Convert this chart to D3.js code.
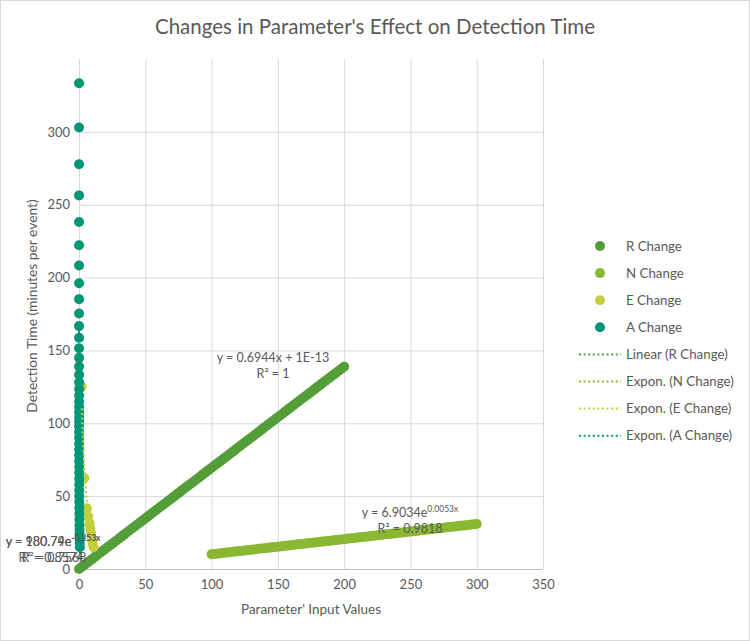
<!DOCTYPE html>
<html><head><meta charset="utf-8">
<script src="https://cdn.jsdelivr.net/npm/d3@7"></script>
<style>body{margin:0;background:#fff} text{font-family:Lato,"Open Sans",sans-serif;fill:#595959}</style>
</head><body><svg id="c" width="750" height="641"></svg>
<script>
// ---- data ----
const xTicks=[0,50,100,150,200,250,300,350];
const yTicks=[0,50,100,150,200,250,300];
const seriesNames=["R Change","N Change","E Change","A Change"];
const trendNames=["Linear (R Change)","Expon. (N Change)","Expon. (E Change)","Expon. (A Change)"];
const colors=["#549E39","#8AB833","#C0CF3A","#029676"];

const rX=[0,2,4,6,8,10,12,14,16,18,20,22,24,26,28,30,32,34,36,38,40,42,44,46,48,50,52,54,56,58,60,62,64,66,68,70,72,74,76,78,80,82,84,86,88,90,92,94,96,98,100,
102,104,106,108,110,112,114,116,118,120,122,124,126,128,130,132,134,136,138,140,142,144,146,148,150,152,154,156,158,160,162,164,166,168,170,172,174,176,178,180,182,184,186,188,190,192,194,196,198,200];
const rY=[0,1.39,2.78,4.17,5.56,6.94,8.33,9.72,11.11,12.5,13.89,15.28,16.67,18.05,19.44,20.83,22.22,23.61,25.0,26.39,27.78,29.16,30.55,31.94,33.33,34.72,36.11,37.5,38.89,40.28,41.66,43.05,44.44,45.83,47.22,48.61,50.0,51.39,52.77,54.16,55.55,
56.94,58.33,59.72,61.11,62.5,63.88,65.27,66.66,68.05,69.44,70.83,72.22,73.61,74.99,76.38,77.77,79.16,80.55,81.94,83.33,84.72,86.11,87.49,88.88,90.27,91.66,93.05,94.44,95.83,97.22,
98.6,99.99,101.38,102.77,104.16,105.55,106.94,108.33,109.72,111.1,112.49,113.88,115.27,116.66,118.05,119.44,120.83,122.21,123.6,124.99,126.38,127.77,129.16,130.55,131.94,133.32,134.71,136.1,137.49,138.88];

const nX=[100,102,104,106,108,110,112,114,116,118,120,122,124,126,128,130,132,134,136,138,140,142,144,146,148,150,152,154,156,158,160,162,164,166,168,170,172,174,176,178,180,182,184,186,188,190,192,194,196,198,200,
202,204,206,208,210,212,214,216,218,220,222,224,226,228,230,232,234,236,238,240,242,244,246,248,250,252,254,256,258,260,262,264,266,268,270,272,274,276,278,280,282,284,286,288,290,292,294,296,298,300];
const nY=[10.1,10.31,10.52,10.72,10.93,11.14,11.35,11.56,11.76,11.97,12.18,12.39,12.6,12.8,13.01,13.22,13.43,13.64,13.84,14.05,14.26,14.47,14.68,14.88,15.09,15.3,15.51,15.72,15.92,16.13,16.34,16.55,16.76,16.96,17.17,17.38,17.59,17.8,18.0,18.21,18.42,
18.63,18.84,19.04,19.25,19.46,19.67,19.88,20.08,20.29,20.5,20.71,20.92,21.12,21.33,21.54,21.75,21.96,22.16,22.37,22.58,22.79,23.0,23.2,23.41,23.62,23.83,24.04,24.24,24.45,24.66,
24.87,25.08,25.28,25.49,25.7,25.91,26.12,26.32,26.53,26.74,26.95,27.16,27.36,27.57,27.78,27.99,28.2,28.4,28.61,28.82,29.03,29.24,29.44,29.65,29.86,30.07,30.28,30.48,30.69,30.9];

const eX=[2,4,6,7,8,8.5,9,9.5,10,10.5,11];
const eY=[125,62.5,41.7,36,31.3,28,25,22,19.5,17,15];

const aX=[0.030,0.033,0.036,0.039,0.042,0.045,0.048,0.051,0.054,0.057,0.060,0.063,0.066,0.069,0.072,0.075,0.078,0.081,0.084,0.087,0.090,0.093,0.096,0.099,
          0.102,0.106,0.111,0.116,0.122,0.128,0.135,0.143,0.152,0.161,0.172,0.185,0.200,0.217,0.238,0.263,0.294,0.333,0.370,0.417,0.476,0.556,0.667];
const aY=[333.3,303.0,277.8,256.4,238.1,222.2,208.3,196.1,185.2,175.4,166.7,158.7,151.5,144.9,138.9,133.3,128.2,123.5,119.0,114.9,111.1,107.5,104.2,101.0,
          98,94,90,86,82,78,74,70,66,62,58,54,50,46,42,38,34,30,27,24,21,18,15];

// ---- setup ----
const svg=d3.select("#c");
const L=79,R=543,B=569;
const x=d3.scaleLinear().domain([0,350]).range([L,R]);
const y=d3.scaleLinear().domain([0,350]).range([B,59]);
const T=y(350);

svg.append("rect").attr("x",0.5).attr("y",0.5).attr("width",749).attr("height",640)
  .attr("fill","#fff").attr("stroke","#d9d9d9");

// gridlines
const gx=svg.append("g").attr("transform",`translate(0,${B})`)
  .call(d3.axisBottom(x).tickValues(xTicks).tickSize(-(B-T)).tickPadding(11).tickFormat(d3.format("d")));
const gy=svg.append("g").attr("transform",`translate(${L},0)`)
  .call(d3.axisLeft(y).tickValues(yTicks).tickSize(-(R-L)).tickPadding(9).tickFormat(d3.format("d")));
[gx,gy].forEach(g=>{
  g.select(".domain").remove();
  g.selectAll(".tick line").attr("stroke","#d9d9d9").attr("stroke-width",1);
  g.selectAll(".tick text").style("font-size","13px").style("font-family","Lato,sans-serif").attr("fill","#595959");
});
gy.selectAll(".tick").filter(d=>d===0).select("line").attr("stroke","#bfbfbf");

// title & axis titles
svg.append("text").attr("x",375).attr("y",34).attr("text-anchor","middle")
  .style("font-size","20.5px").text("Changes in Parameter's Effect on Detection Time");
svg.append("text").attr("x",(L+R)/2).attr("y",614).attr("text-anchor","middle")
  .style("font-size","13.5px").text("Parameter' Input Values");
svg.append("text").attr("transform",`translate(37,306) rotate(-90)`).attr("text-anchor","middle")
  .style("font-size","13.8px").text("Detection Time (minutes per event)");

// series
const series=[[rX,rY],[nX,nY],[eX,eY],[aX,aY]];
series.forEach(([xs,ys],i)=>{
  svg.append("g").selectAll("circle").data(xs.map((v,j)=>[v,ys[j]])).join("circle")
    .attr("cx",d=>x(d[0])).attr("cy",d=>y(d[1])).attr("r",5).attr("fill",colors[i]);
});

// trendlines (least squares, like the spreadsheet)
function linFit(xs,ys){const mx=d3.mean(xs),my=d3.mean(ys);
  let sxy=0,sxx=0;xs.forEach((v,i)=>{sxy+=(v-mx)*(ys[i]-my);sxx+=(v-mx)*(v-mx);});
  const b=sxy/sxx;return {a:my-b*mx,b};}
function expFit(xs,ys){const f=linFit(xs,ys.map(Math.log));return {a:Math.exp(f.a),b:f.b};}
const dotted={"stroke-width":2,"stroke-dasharray":"2 2.6","fill":"none"};
function drawTrend(fn,xs,col){
  const ext=d3.extent(xs);const pts=d3.range(0,101).map(k=>ext[0]+(ext[1]-ext[0])*k/100);
  const p=svg.append("path").datum(pts.map(v=>[v,fn(v)]))
    .attr("d",d3.line().x(d=>x(d[0])).y(d=>y(d[1]))).attr("stroke",col);
  Object.entries(dotted).forEach(([k,v])=>p.attr(k,v));
}
const fr=linFit(rX,rY); drawTrend(v=>fr.a+fr.b*v,rX,colors[0]);
const fn=expFit(nX,nY); drawTrend(v=>fn.a*Math.exp(fn.b*v),nX,colors[1]);
const fe=expFit(eX,eY); drawTrend(v=>fe.a*Math.exp(fe.b*v),eX,colors[2]);
const fa=expFit(aX,aY); drawTrend(v=>fa.a*Math.exp(fa.b*v),aX,colors[3]);

// trendline labels
function eqLabel(cx,by,main,sup,r2,dx2){
  const t=svg.append("text").attr("x",cx).attr("y",by).attr("text-anchor","middle").style("font-size","12.5px");
  t.append("tspan").text(main);
  if(sup) t.append("tspan").attr("dy",-5).style("font-size","8.5px").text(sup);
  svg.append("text").attr("x",cx+(dx2||0)).attr("y",by+16).attr("text-anchor","middle").style("font-size","12.5px").text(r2);
}
eqLabel(273,362,"y = 0.6944x + 1E-13",null,"R² = 1");
eqLabel(410,517,"y = 6.9034e","0.0053x","R² = 0.9818");
eqLabel(53,546,"y = 980.79e","-0.353x","R² = 0.8574",-2);
eqLabel(53,546,"y = 180.74e","-0.253x","R² = 0.7568",1);

// legend
const lg=svg.append("g");
seriesNames.forEach((s,i)=>{
  const cy=246+i*27.1;
  lg.append("circle").attr("cx",600).attr("cy",cy).attr("r",5).attr("fill",colors[i]);
  lg.append("text").attr("x",626).attr("y",cy+4.5).style("font-size","13.3px").text(s);
});
trendNames.forEach((s,i)=>{
  const cy=246+(i+4)*27.1;
  const p=lg.append("line").attr("x1",579).attr("x2",621).attr("y1",cy).attr("y2",cy).attr("stroke",colors[i]);
  Object.entries(dotted).forEach(([k,v])=>p.attr(k,v));
  lg.append("text").attr("x",626).attr("y",cy+4.5).style("font-size","13.3px").text(s);
});
</script></body></html>
